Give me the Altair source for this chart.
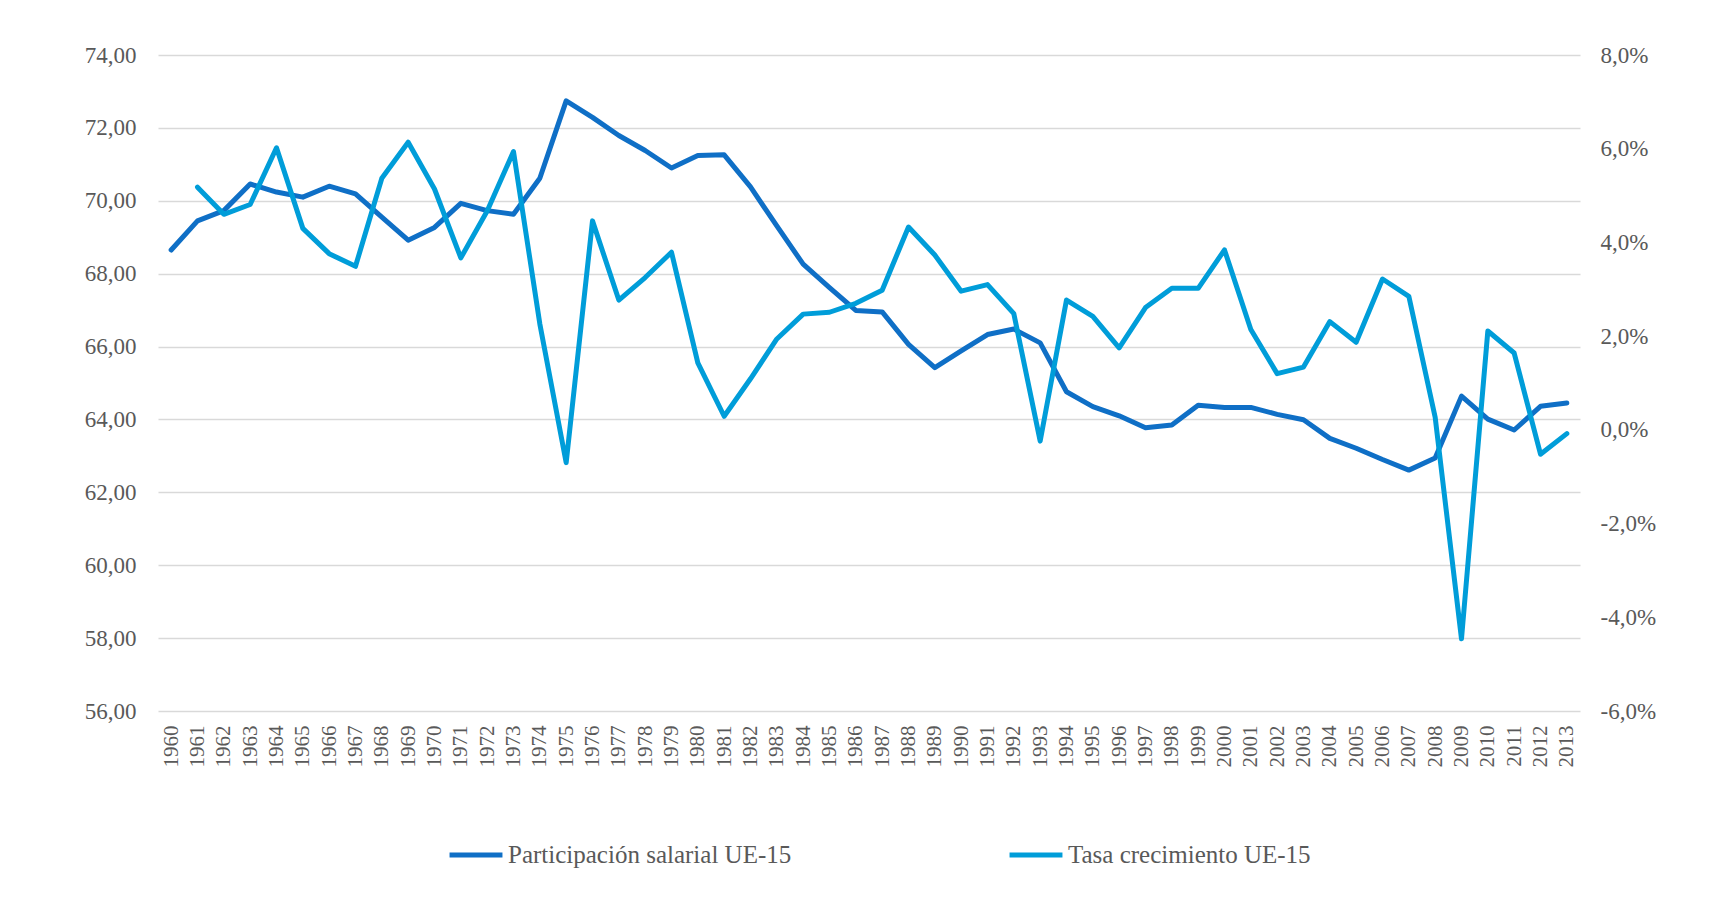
import altair as alt
import pandas as pd

anios = [str(a) for a in range(1960, 2014)]

participacion = [68.65, 69.45, 69.73, 70.46, 70.24, 70.10, 70.40, 70.19, 69.55, 68.92,
                 69.27, 69.93, 69.73, 69.63, 70.62, 72.74, 72.29, 71.79, 71.38, 70.90,
                 71.24, 71.26, 70.38, 69.31, 68.26, 67.62, 66.99, 66.95, 66.06, 65.42,
                 65.88, 66.33, 66.48, 66.10, 64.76, 64.35, 64.10, 63.77, 63.85, 64.39,
                 64.33, 64.33, 64.14, 63.99, 63.48, 63.21, 62.90, 62.61, 62.94, 64.64,
                 64.01, 63.71, 64.36, 64.45]

tasa = [None, 5.18, 4.60, 4.81, 6.02, 4.30, 3.76, 3.49, 5.37, 6.14,
        5.14, 3.67, 4.67, 5.94, 2.26, -0.70, 4.46, 2.77, 3.25, 3.79,
        1.43, 0.29, 1.09, 1.94, 2.47, 2.51, 2.70, 2.98, 4.33, 3.73,
        2.96, 3.10, 2.48, -0.24, 2.77, 2.42, 1.75, 2.61, 3.02, 3.02,
        3.84, 2.14, 1.20, 1.34, 2.31, 1.87, 3.22, 2.85, 0.27, -4.46,
        2.11, 1.64, -0.52, -0.08]

series = ["Participación salarial UE-15", "Tasa crecimiento UE-15"]
colores = ["#0F6FC6", "#009DD9"]

left_ticks = [56, 58, 60, 62, 64, 66, 68, 70, 72, 74]
right_ticks = [-6, -4, -2, 0, 2, 4, 6, 8]

rows = []
for a, p, t in zip(anios, participacion, tasa):
    rows.append({"anio": a, "serie": series[0], "valor": p})
    if t is not None:
        rows.append({"anio": a, "serie": series[1], "valor": t})
df = pd.DataFrame(rows)

FONT = "Liberation Serif"
GRAY = "#595959"

color = alt.Color(
    "serie:N",
    scale=alt.Scale(domain=series, range=colores),
    legend=alt.Legend(
        title=None, orient="none", legendX=289, legendY=771, direction="horizontal",
        symbolType="stroke", symbolSize=2800, symbolStrokeWidth=5,
        labelFont=FONT, labelFontSize=25, labelColor=GRAY, labelOffset=3,
        columnPadding=207, labelLimit=500,
    ),
)

x = alt.X(
    "anio:O", sort=anios,
    axis=alt.Axis(title=None, labelAngle=270, labelFont=FONT, labelFontSize=21,
                  labelColor=GRAY, ticks=False, domain=False, labelPadding=14, grid=False),
)

line_style = dict(strokeWidth=5, strokeCap="round", strokeJoin="round")

linea1 = alt.Chart(df).transform_filter(alt.datum.serie == series[0]).mark_line(**line_style).encode(
    x=x,
    y=alt.Y("valor:Q", scale=alt.Scale(domain=[56, 74], nice=False, zero=False),
            axis=alt.Axis(title=None, orient="left", values=left_ticks,
                          labelExpr="replace(format(datum.value, '.2f'), '.', ',')",
                          grid=True, gridColor="#D9D9D9", gridWidth=1.5,
                          ticks=False, domain=False, labelPadding=22,
                          labelFont=FONT, labelFontSize=23, labelColor=GRAY)),
    color=color,
)

linea2 = alt.Chart(df).transform_filter(alt.datum.serie == series[1]).mark_line(**line_style).encode(
    x=x,
    y=alt.Y("valor:Q", scale=alt.Scale(domain=[-6, 8], nice=False, zero=False),
            axis=alt.Axis(title=None, orient="right", values=right_ticks,
                          labelExpr="replace(replace(format(datum.value, '.1f'), '.', ','), '\u2212', '-') + '%'",
                          grid=False, ticks=False, domain=False, labelPadding=20,
                          labelFont=FONT, labelFontSize=23, labelColor=GRAY)),
    color=color,
)

chart = alt.layer(linea1, linea2).resolve_scale(y="independent").properties(
    width=1422, height=656,
    padding={"left": 76, "top": 36, "right": 5, "bottom": 5},
    background="white",
).configure_view(stroke=None)

chart.save("out.html", embed_options={"renderer": "svg", "actions": False})
